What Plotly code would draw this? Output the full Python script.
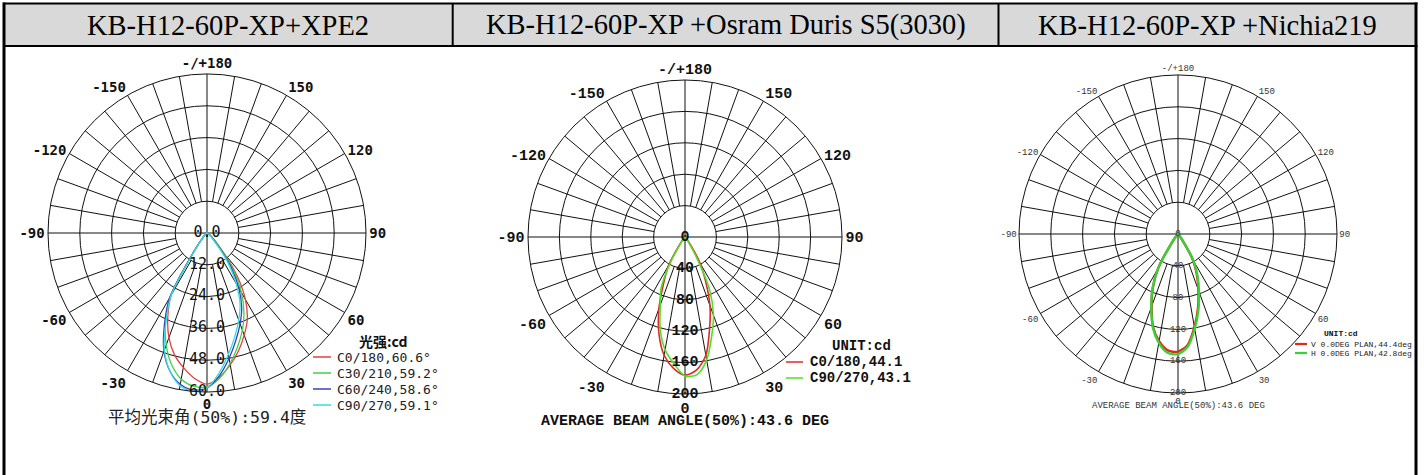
import plotly.graph_objects as go

W, H = 1424, 475

# ---------------- data ----------------
HEADERS = ["KB-H12-60P-XP+XPE2",
           "KB-H12-60P-XP +Osram Duris S5(3030)",
           "KB-H12-60P-XP +Nichia219"]

ANGLES = [-45, -40, -35, -30, -25, -20, -15, -10, -5, 0, 5, 10, 15, 20, 25, 30, 35, 40, 45]

ANG_TICKVALS = [0, 30, 60, 90, 120, 150, 180, 210, 240, 270, 300, 330]
ANG_TICKTEXT = ["0", "30", "60", "90", "120", "150", "-/+180", "-150", "-120", "-90", "-60", "-30"]

# Chart 1 (cd, 0..60)
P1_RINGS = [12, 24, 36, 48, 60]
P1_RLABELS = ["0.0", "12.0", "24.0", "36.0", "48.0", "60.0"]
P1_NAMES = ["C0/180,60.6°", "C30/210,59.2°", "C60/240,58.6°", "C90/270,59.1°"]
P1_C0 = [0, 3, 9, 27, 35, 42, 47.5, 51.5, 55, 57, 54.5, 50.5, 46, 41, 36, 29, 20, 10, 0]
P1_C30 = [0, 3, 9, 27.5, 37, 45, 51.5, 56, 58, 58, 55, 50, 44.5, 39, 33, 26, 18, 9, 0]
P1_C60 = [0, 3, 9, 28, 38, 47.5, 54, 58, 59.5, 58.5, 54, 48, 42, 36.5, 31, 24, 16, 7, 0]
P1_C90 = [0, 3, 8, 27, 36.5, 47, 54, 58.5, 60, 58.5, 53, 46.5, 40.5, 35, 29.5, 22, 14, 6, 0]
P1_SERIES = [P1_C0, P1_C30, P1_C60, P1_C90]
P1_COLORS = ["#e8403c", "#3fd34a", "#3b3fc4", "#33dede"]
P1_TITLE = "光强:cd"
P1_FOOT = "平均光束角(50%):59.4度"

# Chart 2 (cd, 0..200)
P2_RINGS = [40, 80, 120, 160, 200]
P2_RLABELS = ["0", "40", "80", "120", "160", "200"]
P2_NAMES = ["C0/180,44.1", "C90/270,43.1"]
P2_C0 = [0, 3, 12, 42, 64, 97, 128, 153, 168, 176, 170, 153, 121, 93, 62, 38, 12, 3, 0]
P2_C90 = [0, 2, 8, 35, 72, 92, 122, 146, 162, 177, 176, 159, 131, 106, 74, 26, 6, 2, 0]
P2_SERIES = [P2_C0, P2_C90]
P2_COLORS = ["#e02828", "#4fe02a"]
P2_TITLE = "UNIT:cd"
P2_FOOT = "AVERAGE BEAM ANGLE(50%):43.6 DEG"

# Chart 3 (cd, 0..200)
P3_RINGS = [40, 80, 120, 160, 200]
P3_RLABELS = ["0", "40", "80", "120", "160", "200"]
P3_NAMES = ["V 0.0DEG PLAN,44.4deg", "H 0.0DEG PLAN,42.8deg"]
P3_V = [0, 3, 15, 50, 75, 97, 121, 137, 147, 148, 140, 119, 97, 75, 56, 37, 10, 2, 0]
P3_H = [0, 3, 15, 50, 76, 98, 122, 139, 150, 151, 142, 121, 99, 77, 58, 39, 12, 2, 0]
P3_SERIES = [P3_V, P3_H]
P3_COLORS = ["#e02a14", "#3ad03a"]
P3_TITLE = "UNIT:cd"
P3_FOOT = "AVERAGE BEAM ANGLE(50%):43.6 DEG"

# ---------------- helpers ----------------
def fx(x):
    return x / W


def fy(y):
    return 1 - y / H


fig = go.Figure()

MONO1 = "DejaVu Sans Mono, Noto Sans CJK SC"
MONO2 = "Liberation Mono, Courier New, monospace"

charts = [
    dict(sub="polar", cx=207, cy=233, R=159, rings=P1_RINGS, rlabels=P1_RLABELS,
         names=P1_NAMES, series=P1_SERIES, colors=P1_COLORS, lw=1.3,
         tickfont=dict(family=MONO1, size=14, color="#111", weight="bold"),
         rfont=dict(family=MONO1, size=15, color="#111"),
         title=P1_TITLE, foot=P1_FOOT,
         leg=dict(tx=357, ty=341, lx0=313, lx1=331, textx=335, y0=357, dy=16,
                  font=dict(family=MONO1, size=13, color="#222"),
                  tfont=dict(family="Noto Sans CJK SC", size=14, color="#111", weight="bold")),
         footpos=(207, 417), footfont=dict(family=MONO1, size=16.5, color="#222")),
    dict(sub="polar2", cx=685, cy=237, R=157, rings=P2_RINGS, rlabels=P2_RLABELS,
         names=P2_NAMES, series=P2_SERIES, colors=P2_COLORS, lw=1.6,
         tickfont=dict(family=MONO2, size=15, color="#111", weight="bold"),
         rfont=dict(family=MONO2, size=15, color="#111", weight="bold"),
         title=P2_TITLE, foot=P2_FOOT,
         leg=dict(tx=830, ty=346, lx0=786, lx1=803, textx=808, y0=362, dy=16,
                  font=dict(family=MONO2, size=14, color="#111", weight="bold"),
                  tfont=dict(family=MONO2, size=14, color="#111", weight="bold")),
         footpos=(685, 421), footfont=dict(family=MONO2, size=15, color="#111", weight="bold")),
    dict(sub="polar3", cx=1178, cy=234, R=159, rings=P3_RINGS, rlabels=P3_RLABELS,
         names=P3_NAMES, series=P3_SERIES, colors=P3_COLORS, lw=2.4,
         tickfont=dict(family=MONO2, size=9, color="#333"),
         rfont=dict(family=MONO2, size=9, color="#333"),
         title=P3_TITLE, foot=P3_FOOT,
         leg=dict(tx=1322, ty=333, lx0=1295, lx1=1307, textx=1309, y0=344, dy=9,
                  font=dict(family=MONO2, size=8, color="#222"),
                  tfont=dict(family=MONO2, size=8, color="#111", weight="bold")),
         footpos=(1178, 406), footfont=dict(family=MONO2, size=9, color="#333")),
]

layout_polars = {}
annotations = []
shapes = []

for ch in charts:
    rings = ch["rings"]
    r_in, r_out = rings[0], rings[-1]
    # spokes (every 10 deg, from the inner ring out) and the two axes through the centre
    th, rr = [], []
    for a in range(0, 360, 10):
        rr += [0 if a % 90 == 0 else r_in, r_out, None]
        th += [a, a, None]
    fig.add_trace(go.Scatterpolar(r=rr, theta=th, mode="lines", subplot=ch["sub"],
                                  line=dict(color="#111", width=1), hoverinfo="skip",
                                  showlegend=False))
    # curves
    for name, vals, col in zip(ch["names"], ch["series"], ch["colors"]):
        fig.add_trace(go.Scatterpolar(r=vals, theta=ANGLES, mode="lines", name=name,
                                      subplot=ch["sub"], showlegend=False,
                                      line=dict(color=col, width=ch["lw"], shape="spline",
                                                smoothing=0.8)))
    # radial value labels along the 0 deg axis
    fig.add_trace(go.Scatterpolar(r=[0] + rings, theta=[0] * (len(rings) + 1), mode="text",
                                  text=ch["rlabels"], textposition="middle center",
                                  textfont=ch["rfont"], subplot=ch["sub"],
                                  hoverinfo="skip", showlegend=False))

    cx, cy, R = ch["cx"], ch["cy"], ch["R"]
    layout_polars[ch["sub"]] = dict(
        domain=dict(x=[fx(cx - R), fx(cx + R)], y=[fy(cy + R), fy(cy - R)]),
        bgcolor="white",
        radialaxis=dict(range=[0, r_out], tickvals=rings, showticklabels=False, ticks="",
                        showline=False, gridcolor="#111", gridwidth=1),
        angularaxis=dict(rotation=-90, direction="counterclockwise",
                         tickvals=ANG_TICKVALS, ticktext=ANG_TICKTEXT,
                         showgrid=False, showline=True, linecolor="#111", linewidth=1,
                         ticks="", tickfont=ch["tickfont"]),
    )

    # legend (custom, built from series names / colours)
    lg = ch["leg"]
    annotations.append(dict(x=fx(lg["tx"]), y=fy(lg["ty"]), xref="paper", yref="paper",
                            text=ch["title"], showarrow=False, xanchor="left",
                            yanchor="middle", font=lg["tfont"]))
    for k, (name, col) in enumerate(zip(ch["names"], ch["colors"])):
        yy = lg["y0"] + k * lg["dy"]
        shapes.append(dict(type="line", xref="paper", yref="paper",
                           x0=fx(lg["lx0"]), x1=fx(lg["lx1"]), y0=fy(yy), y1=fy(yy),
                           line=dict(color=col, width=1.5 if ch["lw"] < 2 else 2.2)))
        annotations.append(dict(x=fx(lg["textx"]), y=fy(yy), xref="paper", yref="paper",
                                text=name, showarrow=False, xanchor="left", yanchor="middle",
                                font=lg["font"]))
    fxp, fyp = ch["footpos"]
    annotations.append(dict(x=fx(fxp), y=fy(fyp), xref="paper", yref="paper",
                            text=ch["foot"], showarrow=False, xanchor="center",
                            yanchor="middle", font=ch["footfont"]))

# ---------------- table frame ----------------
COL_X = [4, 452.7, 998.5, 1416]
HEAD_TOP, HEAD_BOT = 3.5, 46
shapes.insert(0, dict(type="rect", xref="paper", yref="paper", x0=fx(COL_X[0]), x1=fx(COL_X[-1]),
                      y0=fy(HEAD_BOT), y1=fy(HEAD_TOP), fillcolor="#d9d9d9",
                      line=dict(width=0), layer="below"))
shapes += [
    dict(type="line", xref="paper", yref="paper", x0=fx(3), x1=fx(1417.5),
         y0=fy(HEAD_TOP), y1=fy(HEAD_TOP), line=dict(color="black", width=2)),
    dict(type="line", xref="paper", yref="paper", x0=fx(3), x1=fx(1417.5),
         y0=fy(HEAD_BOT), y1=fy(HEAD_BOT), line=dict(color="black", width=2)),
    dict(type="line", xref="paper", yref="paper", x0=fx(COL_X[0]), x1=fx(COL_X[0]),
         y0=fy(HEAD_TOP - 1), y1=fy(H + 2), line=dict(color="black", width=3)),
    dict(type="line", xref="paper", yref="paper", x0=fx(COL_X[-1]), x1=fx(COL_X[-1]),
         y0=fy(HEAD_TOP - 1), y1=fy(H + 2), line=dict(color="black", width=3)),
]
for xc in COL_X[1:-1]:
    shapes.append(dict(type="line", xref="paper", yref="paper", x0=fx(xc), x1=fx(xc),
                       y0=fy(HEAD_TOP), y1=fy(HEAD_BOT), line=dict(color="black", width=2)))

for i, text in enumerate(HEADERS):
    annotations.append(dict(x=fx((COL_X[i] + COL_X[i + 1]) / 2), y=fy(25.5), xref="paper",
                            yref="paper", text=text, showarrow=False, xanchor="center",
                            yanchor="middle",
                            font=dict(family="Liberation Serif, Times New Roman", size=28.5,
                                      color="black")))

fig.update_layout(width=W, height=H, margin=dict(l=0, r=0, t=0, b=0),
                  paper_bgcolor="white", plot_bgcolor="white", showlegend=False,
                  annotations=annotations, shapes=shapes, **layout_polars)

fig.write_html("out.html", config={"displayModeBar": False},
               post_script="document.body.style.margin='0';document.body.style.overflow='hidden';")
